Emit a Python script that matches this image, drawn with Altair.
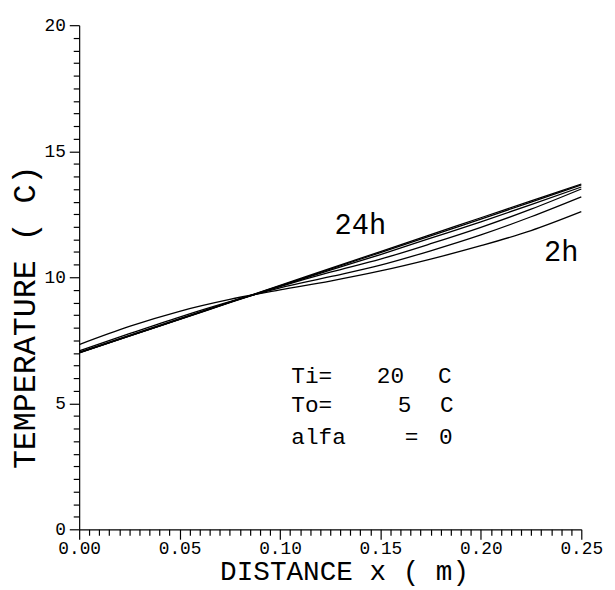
import altair as alt
import pandas as pd

# ---- data ----
x_m = [0.0, 0.025, 0.05, 0.075, 0.10, 0.125, 0.15, 0.175, 0.20, 0.225, 0.25]
t_2h = [7.33, 8.05, 8.65, 9.12, 9.50, 9.85, 10.25, 10.72, 11.25, 11.85, 12.60]
t_4h = [7.08, 7.76, 8.42, 9.03, 9.58, 10.02, 10.48, 11.05, 11.68, 12.40, 13.19]
t_6h = [7.03, 7.69, 8.36, 9.01, 9.63, 10.20, 10.72, 11.33, 11.98, 12.70, 13.50]
t_8h = [7.01, 7.67, 8.33, 8.99, 9.65, 10.28, 10.90, 11.55, 12.20, 12.88, 13.58]
t_12h = [7.00, 7.66, 8.33, 9.00, 9.66, 10.32, 10.98, 11.64, 12.31, 12.98, 13.66]
t_24h = [7.00, 7.67, 8.34, 9.01, 9.68, 10.35, 11.02, 11.69, 12.36, 13.03, 13.70]
series_names = ["2h", "4h", "6h", "8h", "12h", "24h"]
series_vals = [t_2h, t_4h, t_6h, t_8h, t_12h, t_24h]

x_ticks = [round(i * 0.005, 3) for i in range(51)]
y_ticks = [i * 0.5 for i in range(41)]

curve_labels = ["24h", "2h"]
curve_label_x = [0.140, 0.240]
curve_label_y = [12.06, 11.0]

note_left = ["Ti=", "To=", "alfa"]
note_left_x = [0.1056, 0.1056, 0.1056]
note_mid = ["20", "5", "="]
note_mid_x = [0.1550, 0.1620, 0.1655]
note_right = ["C", "C", "0"]
note_right_x = [0.1820, 0.1830, 0.1825]
note_y = [6.07, 4.91, 3.64]

FONT = "Liberation Mono"

rows = []
for name, vals in zip(series_names, series_vals):
    for xv, tv in zip(x_m, vals):
        rows.append({"x": xv, "T": tv, "series": name})
df = pd.DataFrame(rows)

xscale = alt.Scale(domain=[0, 0.25], nice=False, zero=False)
yscale = alt.Scale(domain=[0, 20], nice=False)

x_major = "abs(datum.value*20 - round(datum.value*20)) < 1e-6"
x_axis = alt.Axis(
    values=x_ticks,
    labelExpr=x_major + " ? format(datum.value, '.2f') : ''",
    tickSize={"condition": {"test": x_major, "value": 10}, "value": 6},
    title="DISTANCE x ( m)",
    titleFont=FONT, titleFontSize=28, titleFontWeight="normal", titleColor="black",
    titleX=268, titleY=43, titleBaseline="middle", titleAlign="center",
    labelFont=FONT, labelFontSize=18, labelColor="black", labelPadding=0,
    labelOverlap=False, labelFlush=False,
    domainColor="black", tickColor="black", grid=False, domainWidth=1.2, tickWidth=1.2,
)
y_axis = alt.Axis(
    values=y_ticks,
    labelExpr="datum.value % 5 === 0 ? format(datum.value, 'd') : ''",
    tickSize={"condition": {"test": "datum.value % 5 === 0", "value": 10}, "value": 6},
    title="TEMPERATURE ( C)",
    titleFont=FONT, titleFontSize=32, titleFontWeight="normal", titleColor="black",
    titleX=-55, titleY=295, titleBaseline="middle", titleAlign="center", titleAngle=270,
    labelFont=FONT, labelFontSize=18, labelColor="black", labelPadding=4,
    labelOverlap=False,
    domainColor="black", tickColor="black", grid=False, domainWidth=1.2, tickWidth=1.2,
)

lines = alt.Chart(df).mark_line(color="black", strokeWidth=1.3, interpolate="monotone").encode(
    x=alt.X("x:Q", scale=xscale, axis=x_axis),
    y=alt.Y("T:Q", scale=yscale, axis=y_axis),
    detail="series:N",
)

def text_layer(frame, size, align):
    return alt.Chart(frame).mark_text(
        font=FONT, fontSize=size, color="black", align=align, baseline="middle"
    ).encode(
        x=alt.X("x:Q", scale=xscale, axis=x_axis),
        y=alt.Y("T:Q", scale=yscale, axis=y_axis),
        text="t:N",
    )

lab_df = pd.DataFrame({"x": curve_label_x, "T": curve_label_y, "t": curve_labels})
left_df = pd.DataFrame({"x": note_left_x, "T": note_y, "t": note_left})
mid_df = pd.DataFrame({"x": note_mid_x, "T": note_y, "t": note_mid})
right_df = pd.DataFrame({"x": note_right_x, "T": note_y, "t": note_right})

chart = alt.layer(
    lines,
    text_layer(lab_df, 29, "center"),
    text_layer(left_df, 23, "left"),
    text_layer(mid_df, 23, "center"),
    text_layer(right_df, 23, "center"),
).properties(
    width=508, height=510,
    autosize=alt.AutoSizeParams(type="none"),
    padding={"left": 72, "top": 14, "right": 26, "bottom": 57},
    background="white",
).configure_view(stroke=None)

chart.save("out.html", embed_options={"renderer": "svg", "actions": False})
